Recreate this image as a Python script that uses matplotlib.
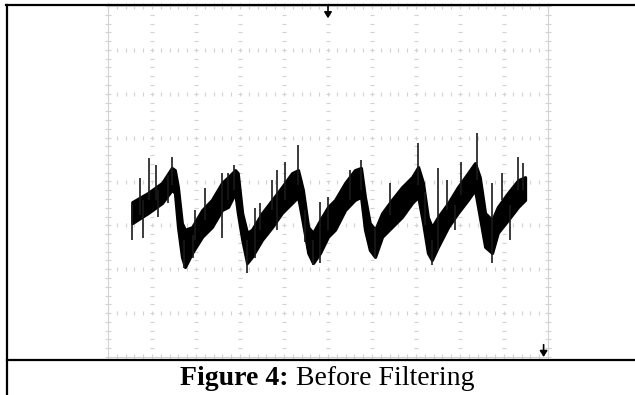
import numpy as np
import matplotlib
matplotlib.use("Agg")
import matplotlib.pyplot as plt
from matplotlib.lines import Line2D

# Scope trace, in divisions (x: 0..10, y: -4..4)
env_t = [0.55, 0.91, 1.23, 1.45, 1.52, 1.59, 1.68, 1.75, 1.91, 2.14,
         2.36, 2.59, 2.73, 2.89, 2.95, 3.05, 3.16, 3.27, 3.50, 3.73,
         3.95, 4.18, 4.32, 4.43, 4.55, 4.66, 4.82, 5.00, 5.16, 5.39,
         5.61, 5.75, 5.84, 5.95, 6.07, 6.23, 6.45, 6.68, 6.91, 7.05,
         7.16, 7.27, 7.36, 7.50, 7.73, 7.95, 8.18, 8.34, 8.45, 8.57,
         8.73, 8.86, 9.09, 9.32, 9.48]
env_hi = [-0.47, -0.26, -0.03, 0.31, 0.26, -0.13, -0.95, -1.10, -1.04, -0.65,
          -0.42, -0.03, 0.10, 0.26, 0.19, -0.72, -1.17, -1.10, -0.72, -0.42,
          -0.13, 0.19, 0.26, -0.19, -1.04, -1.17, -0.88, -0.58, -0.42, -0.03,
          0.26, 0.31, -0.35, -0.95, -1.10, -0.72, -0.42, -0.13, 0.10, 0.33,
          -0.03, -0.81, -1.04, -0.81, -0.49, -0.13, 0.19, 0.42, 0.10, -0.72,
          -0.88, -0.58, -0.26, 0.03, 0.10]
env_lo = [-0.95, -0.72, -0.49, -0.19, -0.26, -1.04, -1.72, -1.95, -1.63, -1.26,
          -1.04, -0.65, -0.58, -0.26, -0.72, -1.33, -1.86, -1.72, -1.33, -1.04,
          -0.72, -0.49, -0.35, -0.95, -1.63, -1.86, -1.63, -1.26, -1.10, -0.65,
          -0.42, -0.35, -1.10, -1.56, -1.72, -1.26, -1.04, -0.81, -0.49, -0.35,
          -0.95, -1.63, -1.79, -1.49, -1.04, -0.72, -0.42, -0.19, -0.81, -1.49,
          -1.63, -1.17, -0.88, -0.58, -0.42]

# noise spikes sticking out of the band
spike_t = [0.55, 0.73, 0.80, 0.93, 1.09, 1.14, 1.36, 1.45, 1.73, 1.93,
           1.98, 2.20, 2.59, 2.73, 2.86, 3.16, 3.34, 3.45, 3.73, 3.84,
           4.02, 4.32, 4.48, 4.66, 4.82, 5.00, 5.50, 5.75, 6.07, 6.41,
           7.05, 7.20, 7.36, 7.50, 7.70, 7.89, 8.02, 8.39, 8.73, 8.95,
           9.14, 9.32, 9.43]
spike_lo = [-1.33, -0.76, -1.29, -0.42, -0.42, -0.81, -0.49, -0.08, -1.97, -1.74,
            -1.33, -0.88, -1.29, -0.42, -0.19, -2.08, -1.74, -1.10, -0.65, -1.10,
            -0.42, -0.08, -1.38, -1.90, -1.86, -1.10, -0.42, -0.19, -1.74, -0.76,
            -0.08, -0.99, -1.90, -1.56, -0.65, -1.10, -0.31, 0.03, -1.86, -0.42,
            -1.33, -0.19, -0.19]
spike_hi = [-0.54, 0.08, -0.42, 0.54, 0.38, -0.19, 0.15, 0.56, -1.33, -1.22,
            -0.65, -0.15, 0.19, 0.19, 0.38, -1.33, -0.60, -0.49, 0.03, 0.26,
            0.44, 0.83, -0.65, -1.33, -0.47, -0.35, 0.26, 0.49, -1.06, -0.03,
            0.88, -0.24, -1.33, 0.31, 0.03, -0.54, 0.44, 1.10, -0.03, 0.19,
            -0.54, 0.56, 0.42]

caption_bold = "Figure 4:"
caption_rest = " Before Filtering"

W, H = 635, 395
fig = plt.figure(figsize=(W / 100, H / 100), dpi=100)
fig.patch.set_facecolor("white")

# plot area (scope screen)
ax = fig.add_axes([108 / W, 1 - 357 / H, 440 / W, 351 / H])
ax.set_xlim(0, 10)
ax.set_ylim(-4, 4)
ax.axis("off")

grid_c = "#d2d2d2"
minor = np.arange(0, 10.01, 0.2)
minor_y = np.arange(-4, 4.01, 0.2)

# dotted division lines
for k in range(1, 10):
    ms = 3.5 if k == 5 else 2.5
    ax.plot(np.full_like(minor_y, k), minor_y, ls="", marker="_",
            ms=ms, mew=0.8, color=grid_c, clip_on=False)
for k in range(-3, 4):
    ms = 3.5 if k == 0 else 2.5
    ax.plot(minor, np.full_like(minor, k), ls="", marker="|",
            ms=ms, mew=0.8, color=grid_c, clip_on=False)

# screen border with ticks
for x in (0, 10):
    ax.plot([x, x], [-4, 4], color=grid_c, lw=0.8, clip_on=False)
    ax.plot(np.full_like(minor_y, x), minor_y, ls="", marker="_",
            ms=4, mew=0.8, color=grid_c, clip_on=False)
for y in (-4, 4):
    ax.plot([0, 10], [y, y], color=grid_c, lw=0.8, clip_on=False)
    ax.plot(minor, np.full_like(minor, y), ls="", marker="|",
            ms=4, mew=0.8, color=grid_c, clip_on=False)

# trace: noisy band + spikes
ax.fill_between(env_t, env_lo, env_hi, color="black", lw=2.2,
                edgecolor="black", zorder=3)
ax.vlines(spike_t, spike_lo, spike_hi, color="#1a1a1a", lw=1.2, zorder=3)

# trigger markers
ax.annotate("", xy=(5, 3.72), xytext=(5, 4.02),
            arrowprops=dict(arrowstyle="-|>,head_length=0.35,head_width=0.22",
                            color="black", lw=1.2, shrinkA=0, shrinkB=0),
            annotation_clip=False)
ax.annotate("", xy=(9.9, -4.0), xytext=(9.9, -3.72),
            arrowprops=dict(arrowstyle="-|>,head_length=0.35,head_width=0.22",
                            color="black", lw=1.2, shrinkA=0, shrinkB=0),
            annotation_clip=False)

# table cell borders
lw = 1.6
fig.add_artist(Line2D([6 / W, 1], [1 - 5 / H, 1 - 5 / H], color="black", lw=lw))
fig.add_artist(Line2D([7 / W, 7 / W], [0, 1 - 5 / H], color="black", lw=lw))
fig.add_artist(Line2D([7 / W, 1], [1 - 360 / H, 1 - 360 / H], color="black", lw=lw))

# caption, centred under the screen
fs = 20
t1 = fig.text(0, 10 / H, caption_bold, fontsize=fs, fontweight="bold",
              family="Liberation Serif", va="baseline")
t2 = fig.text(0, 10 / H, caption_rest, fontsize=fs,
              family="Liberation Serif", va="baseline")
r = fig.canvas.get_renderer()
w1 = t1.get_window_extent(r).width
w2 = t2.get_window_extent(r).width
x0 = 327.5 - (w1 + w2) / 2
t1.set_x(x0 / W)
t2.set_x((x0 + w1) / W)

fig.savefig("out.png", dpi=100)
